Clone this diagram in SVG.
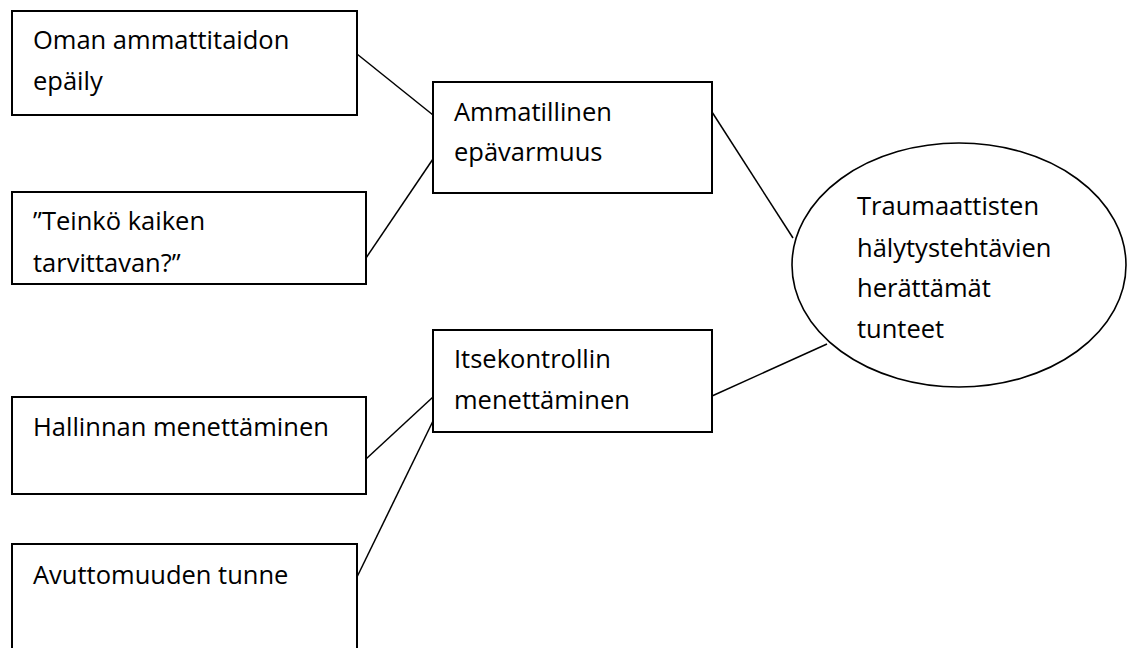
<svg xmlns="http://www.w3.org/2000/svg" width="1134" height="648" viewBox="0 0 1134 648">
<style>
.box{fill:#fff;stroke:#000;stroke-width:2}
.ell{fill:#fff;stroke:#000;stroke-width:1.6}
.t{font-family:"Open Sans","Liberation Sans",sans-serif;font-size:25.5px;fill:#000}
.c line{stroke:#000;stroke-width:1.5}
</style>
<rect width="1134" height="648" fill="#fff"/>
<g id="connectors" class="c">
<line x1="357" y1="54" x2="433" y2="115"/>
<line x1="366" y1="258" x2="433" y2="159"/>
<line x1="366" y1="459" x2="433" y2="397"/>
<line x1="357" y1="577" x2="433" y2="421"/>
<line x1="712" y1="112" x2="793" y2="238"/>
<line x1="712" y1="396" x2="827" y2="344"/>
</g>
<g id="n1"><rect class="box" x="12" y="11" width="345" height="104"/>
<text class="t" x="33" y="49">Oman ammattitaidon</text><text class="t" x="33" y="90">epäily</text></g>
<g id="n2"><rect class="box" x="12" y="192" width="354" height="92"/>
<text class="t" x="33" y="230">”Teinkö kaiken</text><text class="t" x="33" y="272">tarvittavan?”</text></g>
<g id="n3"><rect class="box" x="433" y="82" width="279" height="111"/>
<text class="t" x="454" y="121">Ammatillinen</text><text class="t" x="454" y="161">epävarmuus</text></g>
<g id="n4"><rect class="box" x="433" y="330" width="279" height="102"/>
<text class="t" x="454" y="368">Itsekontrollin</text><text class="t" x="454" y="409">menettäminen</text></g>
<g id="n5"><rect class="box" x="12" y="397" width="354" height="97"/>
<text class="t" x="33" y="436">Hallinnan menettäminen</text></g>
<g id="n6"><rect class="box" x="12" y="544" width="345" height="110"/>
<text class="t" x="33" y="584">Avuttomuuden tunne</text></g>
<g id="n7"><ellipse class="ell" cx="959" cy="265" rx="167" ry="122"/>
<text class="t" x="857" y="215">Traumaattisten</text><text class="t" x="857" y="257">hälytystehtävien</text><text class="t" x="857" y="297">herättämät</text><text class="t" x="857" y="338">tunteet</text></g>
</svg>
